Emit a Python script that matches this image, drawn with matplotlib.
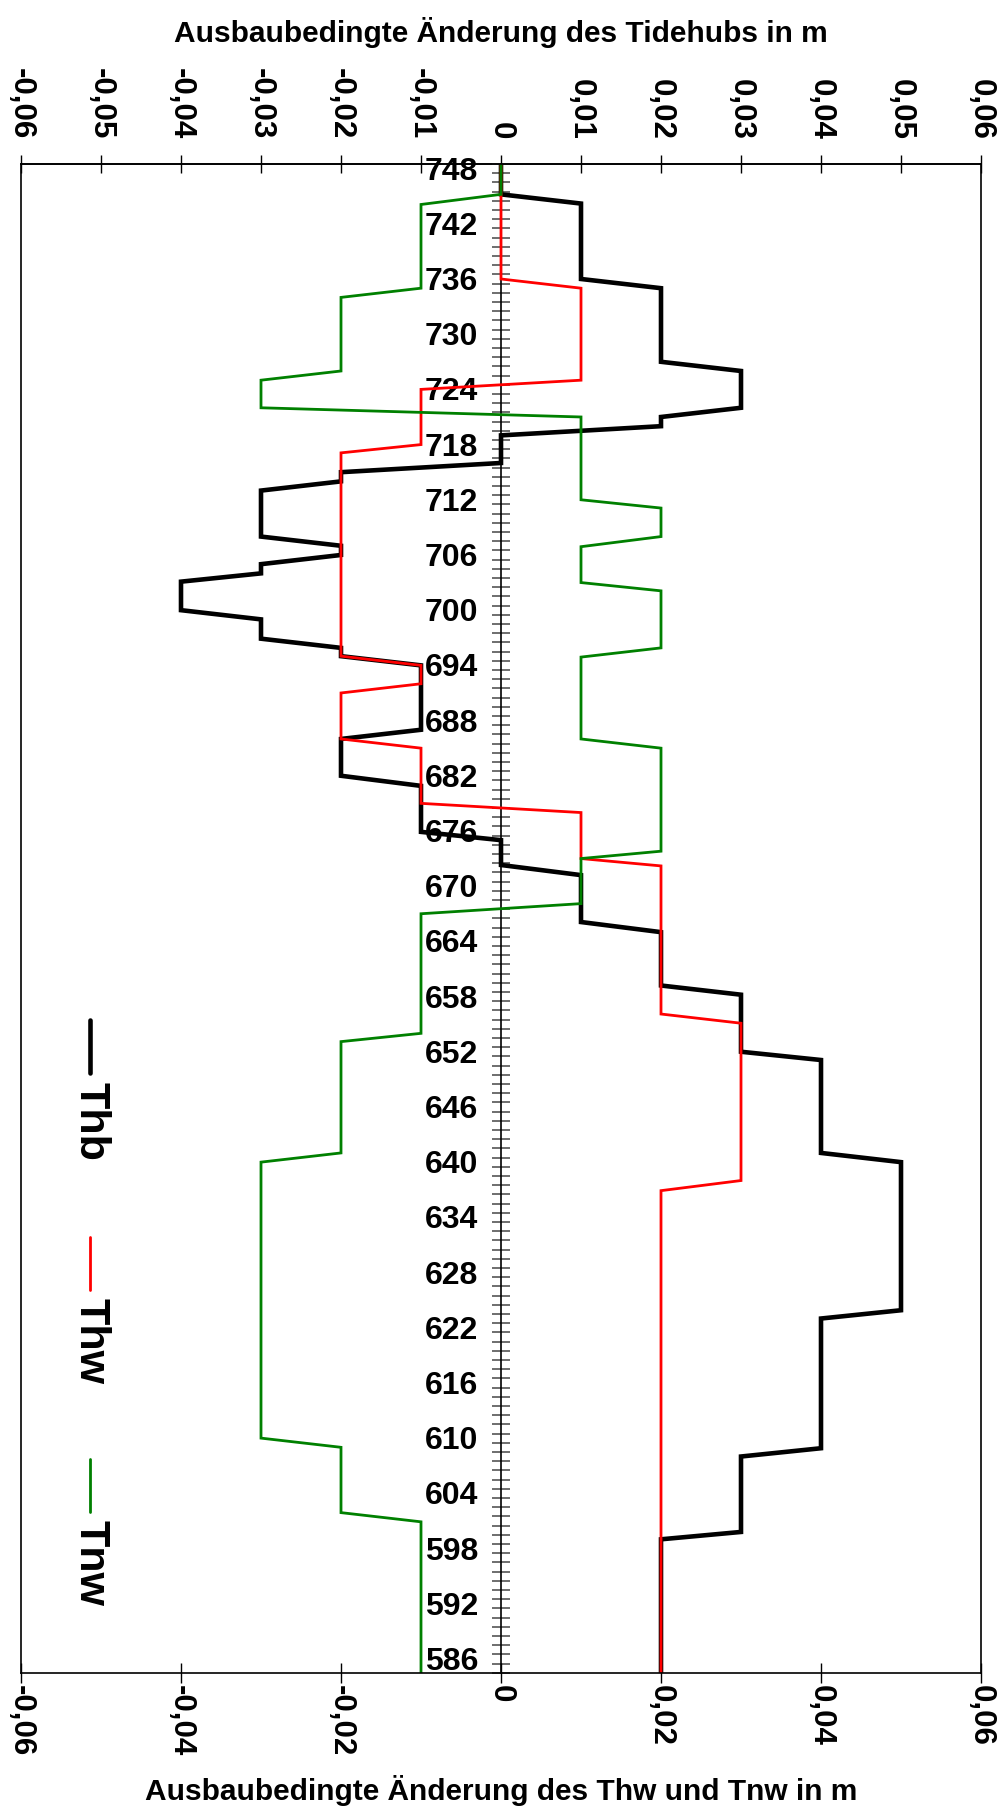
import numpy as np
import matplotlib.pyplot as plt
import matplotlib.transforms as mtransforms
from matplotlib.ticker import FuncFormatter, MultipleLocator

plt.rcParams['font.family'] = ['Liberation Sans', 'DejaVu Sans']
plt.rcParams['font.weight'] = 'bold'
plt.rcParams['axes.unicode_minus'] = False

# Elbe-km stations and changes (m)
km_thb = [749, 745.7, 744.7, 736.5, 735.5, 727.5, 726.5, 722.5, 721.5, 720.5, 719.5,
          716.5, 715.5, 714.5, 713.5, 708.5, 707.5, 706.5, 705.5, 704.5, 703.6,
          700.5, 699.5, 697.4, 696.4, 695.5, 694.5, 687.5, 686.5, 682.5, 681.4,
          676.4, 675.5, 672.8, 671.7, 666.6, 665.5, 659.7, 658.7, 652.5, 651.6,
          641.5, 640.5, 624.4, 623.5, 609.4, 608.5, 600.3, 599.5, 585]
thb = [0, 0, 0.01, 0.01, 0.02, 0.02, 0.03, 0.03, 0.02, 0.02, 0,
       0, -0.02, -0.02, -0.03, -0.03, -0.02, -0.02, -0.03, -0.03, -0.04,
       -0.04, -0.03, -0.03, -0.02, -0.02, -0.01, -0.01, -0.02, -0.02, -0.01,
       -0.01, 0, 0, 0.01, 0.01, 0.02, 0.02, 0.03, 0.03, 0.04,
       0.04, 0.05, 0.05, 0.04, 0.04, 0.03, 0.03, 0.02, 0.02]

km_thw = [749, 736.5, 735.5, 725.5, 724.5, 718.5, 717.6, 695.5, 694.5, 692.5, 691.5,
          686.5, 685.5, 679.5, 678.5, 673.5, 672.7, 656.6, 655.6, 638.5, 637.4, 585]
thw = [0, 0, 0.01, 0.01, -0.01, -0.01, -0.02, -0.02, -0.01, -0.01, -0.02,
       -0.02, -0.01, -0.01, 0.01, 0.01, 0.02, 0.02, 0.03, 0.03, 0.02, 0.02]

km_tnw = [749, 745.7, 744.6, 735.5, 734.5, 726.5, 725.5, 722.5, 721.5, 712.5, 711.6,
          708.5, 707.4, 703.5, 702.6, 696.4, 695.4, 686.5, 685.5, 674.3, 673.5,
          668.6, 667.5, 654.5, 653.6, 641.5, 640.5, 610.5, 609.5, 602.4, 601.4, 585]
tnw = [0, 0, -0.01, -0.01, -0.02, -0.02, -0.03, -0.03, 0.01, 0.01, 0.02,
       0.02, 0.01, 0.01, 0.02, 0.02, 0.01, 0.01, 0.02, 0.02, 0.01,
       0.01, -0.01, -0.01, -0.02, -0.02, -0.03, -0.03, -0.02, -0.02, -0.01, -0.01]

km_labels = np.arange(586, 749, 6)
top_ticks = np.arange(-0.06, 0.0601, 0.01)
bottom_ticks = np.arange(-0.06, 0.0601, 0.02)


def komma(v, pos):
    if abs(v) < 1e-9:
        return "0"
    return ("%.2f" % v).replace(".", ",")


fig = plt.figure(figsize=(10.01, 18.14), dpi=100)
ax = fig.add_axes([21 / 1001, 141.3 / 1814, 960 / 1001, 1508.7 / 1814])

ax.plot(thb, km_thb, color='black', lw=3.3, solid_joinstyle='miter')
ax.plot(thw, km_thw, color='#ff0000', lw=2.0, solid_joinstyle='miter')
ax.plot(tnw, km_tnw, color='#008000', lw=2.0, solid_joinstyle='miter')

ax.set_xlim(-0.06, 0.06)
ax.set_ylim(585, 749)
ax.tick_params(axis='y', left=False, labelleft=False)
for s in ax.spines.values():
    s.set_linewidth(1.2)

# bottom axis (Thw / Tnw)
ax.set_xticks(bottom_ticks)
ax.xaxis.set_major_formatter(FuncFormatter(komma))
ax.tick_params(axis='x', direction='inout', length=14, width=1, labelsize=22.5,
               labelrotation=-90, pad=2)
ax.set_xlabel("Ausbaubedingte Änderung des Thw und Tnw in m", fontsize=21.5,
              fontweight='bold', labelpad=13)

# top axis (Tidehub)
top = ax.secondary_xaxis('top')
top.set_xticks(top_ticks)
top.xaxis.set_major_formatter(FuncFormatter(komma))
top.tick_params(direction='inout', length=13, width=1, labelsize=22.5,
                labelrotation=-90, pad=11)
top.spines['top'].set_linewidth(1.2)
top.set_xlabel("Ausbaubedingte Änderung des Tidehubs in m", fontsize=21.5,
               fontweight='bold', labelpad=19)

# km axis along zero line
mid = ax.secondary_yaxis(0.5)
mid.set_alignment('left')
mid.set_yticks(km_labels)
mid.yaxis.set_minor_locator(MultipleLocator(1))
mid.tick_params(which='both', direction='inout', length=13, width=1.2,
                color='#555555', labelsize=23, pad=10)
mid.spines['left'].set_linewidth(1.2)
shift = mtransforms.ScaledTranslation(0, 0.05, fig.dpi_scale_trans)
for lab in mid.get_yticklabels():
    lab.set_transform(lab.get_transform() + shift)

# legend, drawn vertical like the rotated chart
leg = [("Thb", 'black', 3.3, 0.4326, 0.3973, 0.3917),
       ("Thw", '#ff0000', 2.0, 0.2890, 0.2537, 0.2484),
       ("Tnw", '#008000', 2.0, 0.1414, 0.1067, 0.1012)]
for name, col, lw, y0, y1, yt in leg:
    ax.plot([0.072, 0.072], [y0, y1], transform=ax.transAxes, color=col, lw=lw,
            solid_capstyle='round')
    ax.text(0.072, yt, name, transform=ax.transAxes, rotation=-90, ha='center',
            va='top', fontsize=31, fontweight='bold')

fig.savefig("out.png", dpi=100)
